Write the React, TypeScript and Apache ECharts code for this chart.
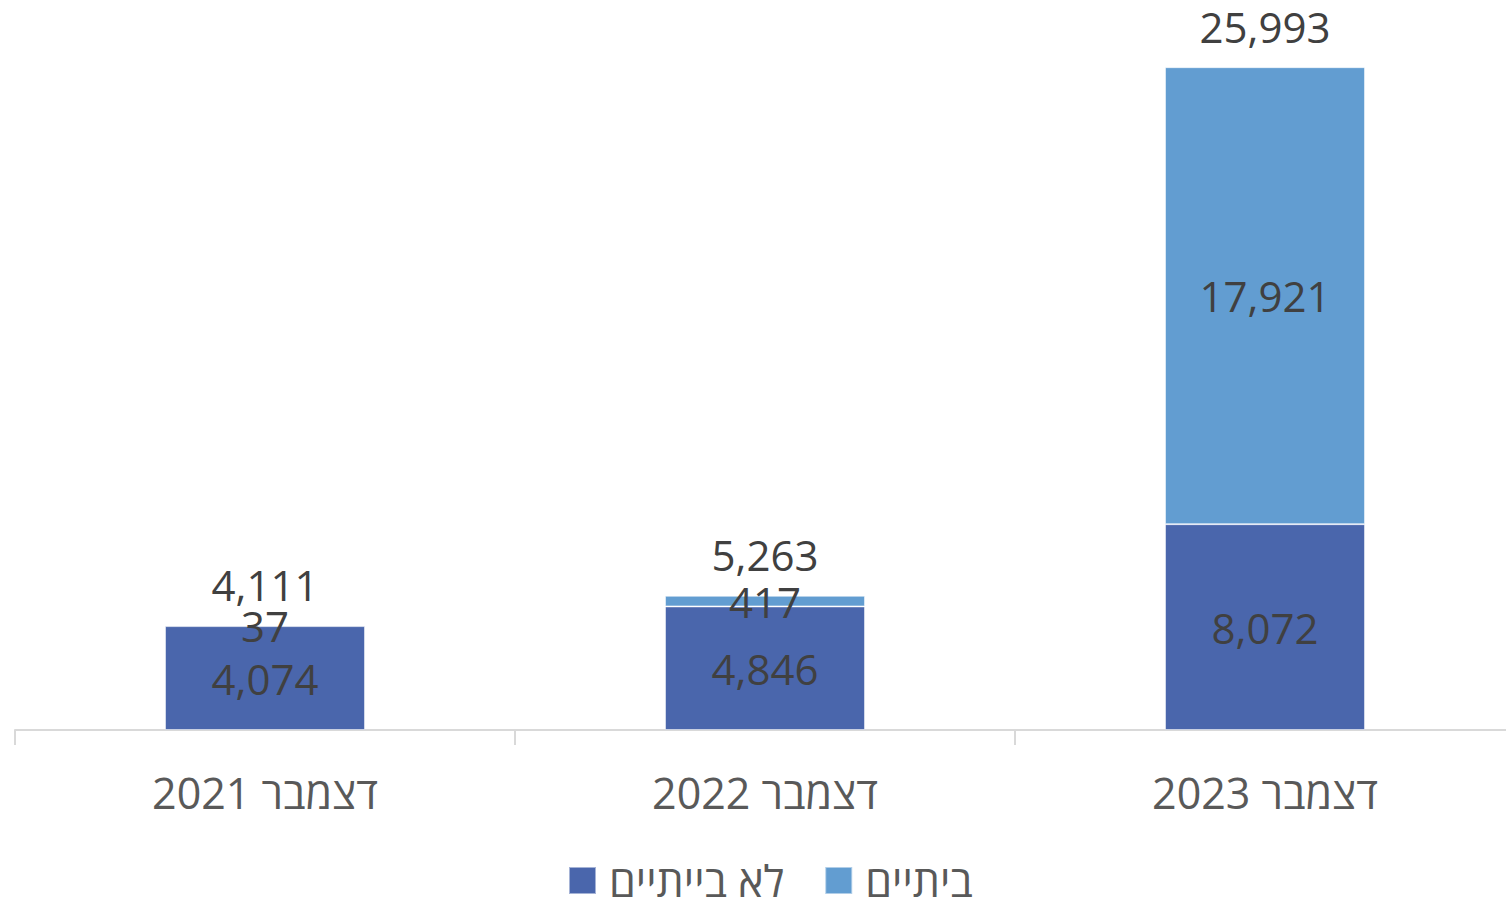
import React, { useEffect, useRef } from "react";
import * as echarts from "echarts";

const categories = ["דצמבר 2021", "דצמבר 2022", "דצמבר 2023"];
const notHomeValues = [4074, 4846, 8072];
const homeValues = [37, 417, 17921];
const totals = [4111, 5263, 25993];
const seriesNames = ["לא בייתיים", "ביתיים"];

const FONT = "'Open Sans', 'DejaVu Sans', sans-serif";
const fmt = (v: number) => v.toLocaleString("en-US");

export default function App() {
  const ref = useRef<HTMLDivElement>(null);
  useEffect(() => {
    if (!ref.current) return;
    const chart = echarts.init(ref.current, undefined, { renderer: "svg" });
    const valueLabel = {
      show: true,
      position: "inside" as const,
      color: "#404040",
      fontSize: 42,
      lineHeight: 44,
      fontFamily: FONT,
      formatter: (p: any) => fmt(p.value),
    };
    chart.setOption({
      animation: false,
      backgroundColor: "#ffffff",
      grid: { left: 15, right: 0, top: 16, bottom: 170, containLabel: false },
      legend: {
        data: seriesNames,
        left: 563,
        top: 854,
        itemWidth: 27,
        itemHeight: 27,
        itemGap: 40,
        icon: "rect",
        textStyle: {
          color: "#595959",
          fontSize: 43,
          lineHeight: 40,
          fontFamily: FONT,
          padding: [0, 0, 0, 8],
        },
      },
      xAxis: {
        type: "category",
        data: categories,
        axisLine: { show: true, lineStyle: { color: "#d9d9d9", width: 2 } },
        axisTick: { show: true, length: 15, lineStyle: { color: "#d9d9d9", width: 2 } },
        axisLabel: {
          color: "#595959",
          fontSize: 43,
          fontFamily: FONT,
          margin: 41,
        },
      },
      yAxis: {
        type: "value",
        show: false,
        min: 0,
        max: 28000,
        splitLine: { show: false },
      },
      series: [
        {
          name: seriesNames[0],
          type: "bar",
          stack: "s",
          barWidth: "40%",
          data: notHomeValues,
          itemStyle: { color: "#4A66AC", borderColor: "rgba(255,255,255,0.5)", borderWidth: 1 },
          label: valueLabel,
        },
        {
          name: seriesNames[1],
          type: "bar",
          stack: "s",
          barWidth: "40%",
          data: homeValues,
          itemStyle: { color: "#629DD1", borderColor: "rgba(255,255,255,0.5)", borderWidth: 1 },
          label: valueLabel,
        },
        {
          name: "total",
          type: "bar",
          stack: "s",
          barWidth: "40%",
          data: totals.map(() => 0),
          itemStyle: { color: "transparent" },
          label: {
            show: true,
            position: "top",
            distance: 19,
            color: "#404040",
            fontSize: 42,
            lineHeight: 44,
            fontFamily: FONT,
            formatter: (p: any) => fmt(totals[p.dataIndex]),
          },
        },
      ],
    });
    return () => chart.dispose();
  }, []);
  return (
    <div
      style={{
        position: "absolute",
        left: 0,
        top: 0,
        width: 1506,
        height: 900,
        overflow: "hidden",
      }}
    >
      <div ref={ref} style={{ width: 1515, height: 900 }} />
    </div>
  );
}
